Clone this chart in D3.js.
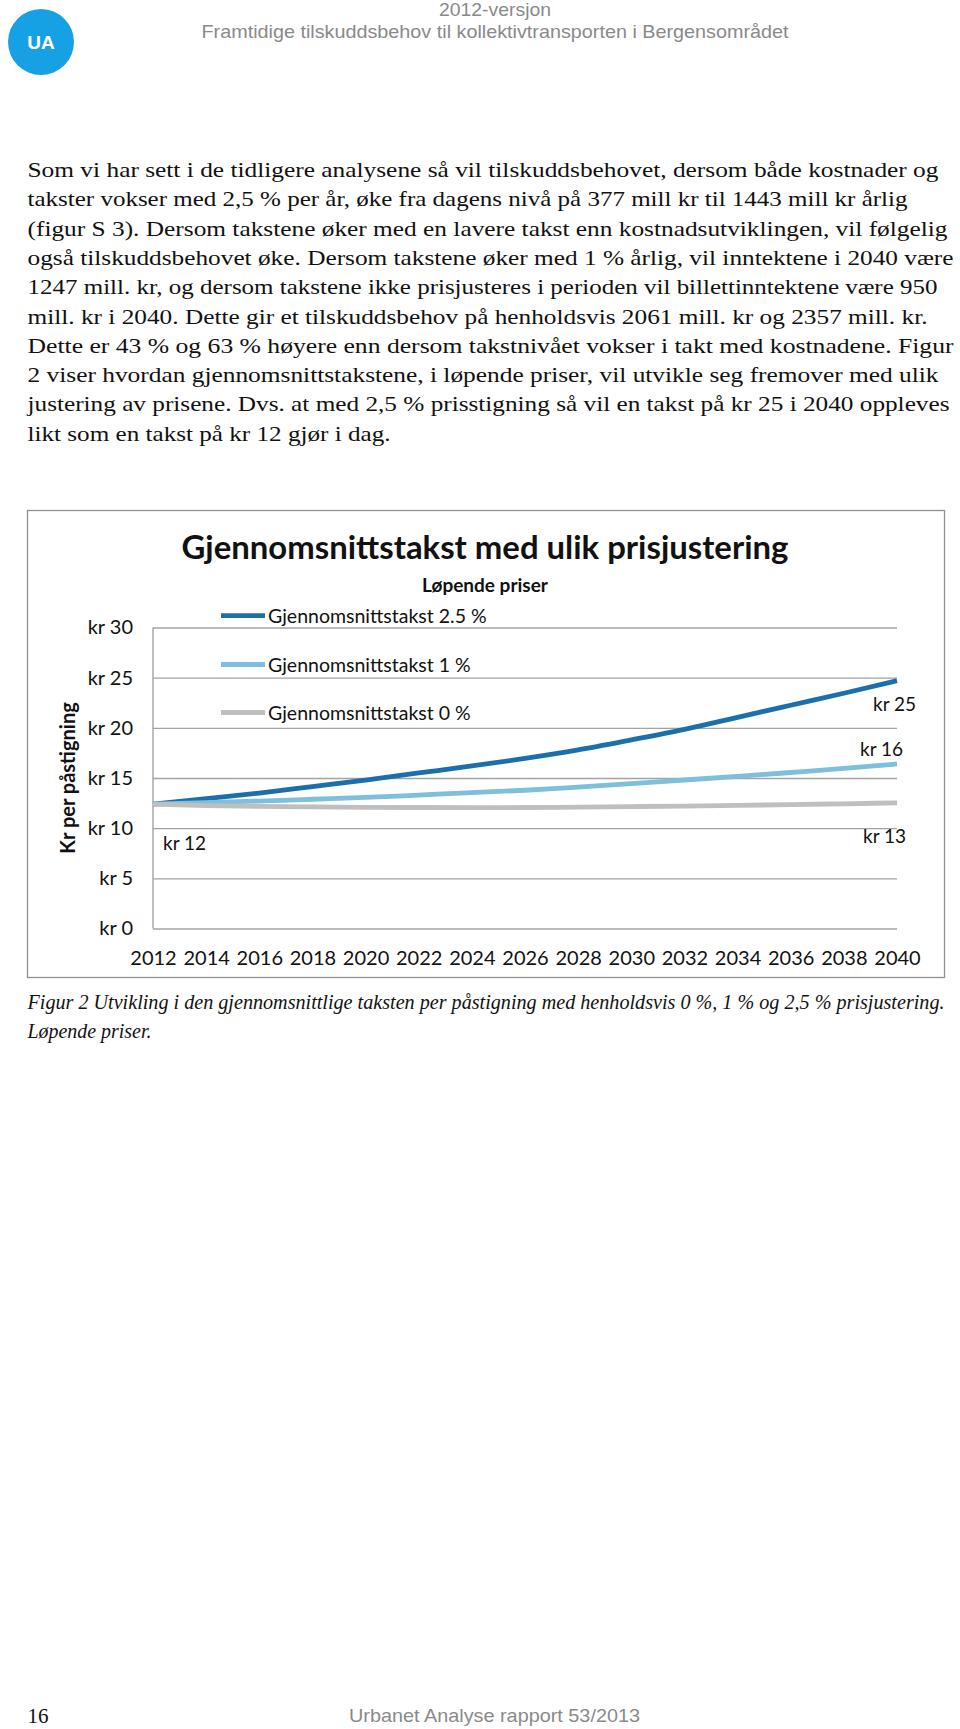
<!DOCTYPE html>
<html><head><meta charset="utf-8">
<script src="https://cdn.jsdelivr.net/npm/d3@7"></script>
<style>html,body{margin:0;padding:0;background:#fff;}svg{display:block;}</style>
</head><body>
<script>
// ---------- DATA ----------
const years   = [2012,2014,2016,2018,2020,2022,2024,2026,2028,2030,2032,2034,2036,2038,2040];
const fare25  = [12.4,12.95,13.5,14.15,14.8,15.5,16.2,16.95,17.8,18.8,19.85,21.05,22.25,23.45,24.7];
const fare10  = [12.4,12.55,12.7,12.88,13.06,13.3,13.55,13.78,14.1,14.43,14.8,15.16,15.55,15.95,16.4];
const fare0   = [12.4,12.25,12.17,12.12,12.08,12.06,12.05,12.06,12.1,12.15,12.2,12.27,12.35,12.43,12.52];
const seriesNames = ["Gjennomsnittstakst 2.5 %","Gjennomsnittstakst 1 %","Gjennomsnittstakst 0 %"];
const yTicks  = [0,5,10,15,20,25,30];
const xTicks  = years;
const endLabels = ["kr 25","kr 16","kr 13"];
const startLabel = "kr 12";
const chartTitle = "Gjennomsnittstakst med ulik prisjustering";
const chartSubtitle = "Løpende priser";
const yTitle = "Kr per påstigning";

const bodyLines = [
 "Som vi har sett i de tidligere analysene så vil tilskuddsbehovet, dersom både kostnader og",
 "takster vokser med 2,5 % per år, øke fra dagens nivå på 377 mill kr til 1443 mill kr årlig",
 "(figur S 3). Dersom takstene øker med en lavere takst enn kostnadsutviklingen, vil følgelig",
 "også tilskuddsbehovet øke. Dersom takstene øker med 1 % årlig, vil inntektene i 2040 være",
 "1247 mill. kr, og dersom takstene ikke prisjusteres i perioden vil billettinntektene være 950",
 "mill. kr i 2040. Dette gir et tilskuddsbehov på henholdsvis 2061 mill. kr og 2357 mill. kr.",
 "Dette er 43 % og 63 % høyere enn dersom takstnivået vokser i takt med kostnadene. Figur",
 "2 viser hvordan gjennomsnittstakstene, i løpende priser, vil utvikle seg fremover med ulik",
 "justering av prisene. Dvs. at med 2,5 % prisstigning så vil en takst på kr 25 i 2040 oppleves",
 "likt som en takst på kr 12 gjør i dag."
];
const bodyWidths = [911,880,920,926,910,900,926,911,922,363];
const captionLines = [
 "Figur 2 Utvikling i den gjennomsnittlige taksten per påstigning med henholdsvis 0 %, 1 % og 2,5 % prisjustering.",
 "Løpende priser."
];
const captionWidths = [917,124];

// ---------- STYLE ----------
const W = 960, H = 1729;
const colors = ["#1b6fad","#7dbfdd","#bfbfbf"];
const sansChart = "Lato, 'Open Sans', sans-serif";
const serif = "'Liberation Serif', 'DejaVu Serif', serif";
const narrow = "'Liberation Sans Narrow', 'Liberation Sans', Arial, sans-serif";

const svg = d3.select("body").append("svg").attr("width",W).attr("height",H);
svg.append("rect").attr("width",W).attr("height",H).attr("fill","#fff");

// ---------- HEADER ----------
svg.append("circle").attr("cx",41).attr("cy",42).attr("r",33).attr("fill","#16a1e4");
svg.append("text").attr("x",41).attr("y",49).attr("text-anchor","middle")
  .attr("font-family","'Liberation Sans', Arial, sans-serif").attr("font-weight","bold")
  .attr("font-size",19).attr("fill","#fff").text("UA");
svg.append("text").attr("x",495).attr("y",16).attr("text-anchor","middle")
  .attr("font-family",narrow).attr("font-size",19).attr("fill","#8a8a8a")
  .attr("textLength",112).attr("lengthAdjust","spacingAndGlyphs").text("2012-versjon");
svg.append("text").attr("x",495).attr("y",38).attr("text-anchor","middle")
  .attr("font-family",narrow).attr("font-size",19).attr("fill","#8a8a8a")
  .attr("textLength",587).attr("lengthAdjust","spacingAndGlyphs")
  .text("Framtidige tilskuddsbehov til kollektivtransporten i Bergensområdet");

// ---------- BODY ----------
bodyLines.forEach((t,i)=>{
  svg.append("text").attr("x",27.5).attr("y",177+i*29.3)
    .attr("font-family",serif).attr("font-size",21).attr("fill","#111")
    .attr("textLength",bodyWidths[i]).attr("lengthAdjust","spacingAndGlyphs").text(t);
});

// ---------- CHART FRAME ----------
svg.append("rect").attr("x",27.5).attr("y",510.5).attr("width",917).attr("height",467)
  .attr("fill","#fff").attr("stroke","#8f8f8f").attr("stroke-width",1.3);

const x = d3.scaleLinear().domain([2012,2040]).range([153,897]);
const y = d3.scaleLinear().domain([0,30]).range([928.5,627.5]);

// gridlines
const grid = svg.append("g").attr("transform","translate(153,0)")
  .call(d3.axisLeft(y).tickValues(yTicks).tickSize(-(897-153)).tickFormat(""));
grid.select(".domain").remove();
grid.selectAll("line").attr("stroke","#a3a3a3").attr("stroke-width",1.4);
// vertical axis line
svg.append("line").attr("x1",153).attr("x2",153).attr("y1",y(30)).attr("y2",y(0))
  .attr("stroke","#a3a3a3").attr("stroke-width",1.4);

// y axis labels
const yAx = svg.append("g").attr("transform","translate(153,0)")
  .call(d3.axisLeft(y).tickValues(yTicks).tickSize(0).tickPadding(20).tickFormat(d=>"kr "+d));
yAx.select(".domain").remove();
yAx.selectAll("text").attr("font-family",sansChart).attr("font-size",20).attr("fill","#111");

// x axis labels
const xAx = svg.append("g").attr("transform",`translate(0,${y(0)})`)
  .call(d3.axisBottom(x).tickValues(xTicks).tickSize(0).tickPadding(22).tickFormat(d3.format("d")));
xAx.select(".domain").remove();
xAx.selectAll("text").attr("font-family",sansChart).attr("font-size",20).attr("fill","#111");

// y title
svg.append("text").attr("transform","translate(75,778) rotate(-90)").attr("text-anchor","middle")
  .attr("font-family",sansChart).attr("font-weight","bold").attr("font-size",20).attr("fill","#111")
  .text(yTitle);

// lines
const seriesData = [fare25, fare10, fare0];
const line = d3.line().x((d,i)=>x(years[i])).y(d=>y(d)).curve(d3.curveMonotoneX);
seriesData.forEach((s,k)=>{
  svg.append("path").datum(s).attr("d",line).attr("fill","none")
    .attr("stroke",colors[k]).attr("stroke-width",4.8).attr("stroke-linecap","butt");
});

// title & subtitle
const title = svg.append("text").attr("x",485).attr("y",559).attr("text-anchor","middle")
  .attr("font-family",sansChart).attr("font-weight","bold").attr("font-size",30).attr("fill","#111")
  .text(chartTitle);
const tw = title.node().getComputedTextLength();
title.attr("font-size",30*607/tw);
svg.append("text").attr("x",485).attr("y",592).attr("text-anchor","middle")
  .attr("font-family",sansChart).attr("font-weight","bold").attr("font-size",19).attr("fill","#111")
  .text(chartSubtitle);

// legend
const legY = [615.7,664.5,712.5];
seriesNames.forEach((n,k)=>{
  svg.append("line").attr("x1",221).attr("x2",265).attr("y1",legY[k]).attr("y2",legY[k])
    .attr("stroke",colors[k]).attr("stroke-width",4.8);
  svg.append("text").attr("x",268).attr("y",legY[k]+7).attr("font-family",sansChart)
    .attr("font-size",19.5).attr("fill","#111").text(n);
});

// data labels
const lastI = years.length-1;
svg.append("text").attr("x",x(years[0])+10).attr("y",y(fare25[0])+46)
  .attr("font-family",sansChart).attr("font-size",19).attr("fill","#111").text(startLabel);
const endOffsets = [[-24,30],[-37,-8],[-34,40]];
seriesData.forEach((s,k)=>{
  svg.append("text").attr("x",x(years[lastI])+endOffsets[k][0]).attr("y",y(s[lastI])+endOffsets[k][1])
    .attr("font-family",sansChart).attr("font-size",19).attr("fill","#111").text(endLabels[k]);
});

// ---------- CAPTION ----------
captionLines.forEach((t,i)=>{
  svg.append("text").attr("x",27.5).attr("y",1009+i*29)
    .attr("font-family",serif).attr("font-style","italic").attr("font-size",20).attr("fill","#111")
    .attr("textLength",captionWidths[i]).attr("lengthAdjust","spacingAndGlyphs").text(t);
});

// ---------- FOOTER ----------
svg.append("text").attr("x",27.5).attr("y",1723).attr("font-family",serif).attr("font-size",21)
  .attr("fill","#111").text("16");
svg.append("text").attr("x",494.5).attr("y",1722).attr("text-anchor","middle")
  .attr("font-family",narrow).attr("font-size",19).attr("fill","#8a8a8a")
  .attr("textLength",291).attr("lengthAdjust","spacingAndGlyphs").text("Urbanet Analyse rapport 53/2013");
</script>
</body></html>
